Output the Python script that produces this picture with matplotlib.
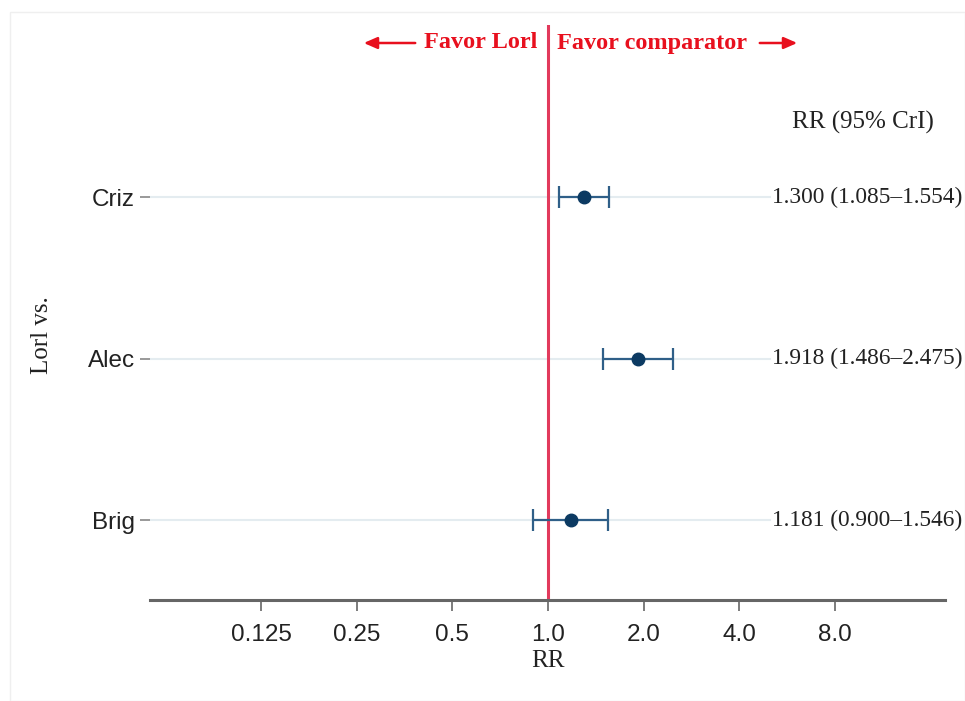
import matplotlib
matplotlib.use("Agg")
import matplotlib.pyplot as plt
import numpy as np
from matplotlib.transforms import blended_transform_factory
from matplotlib.patches import Rectangle

# Data
comparators = ["Criz", "Alec", "Brig"]
rr = [1.300, 1.918, 1.181]
lower = [1.085, 1.486, 0.900]
upper = [1.554, 2.475, 1.546]
tick_values = [0.125, 0.25, 0.5, 1.0, 2.0, 4.0, 8.0]
tick_labels = ["0.125", "0.25", "0.5", "1.0", "2.0", "4.0", "8.0"]

serif = "Liberation Serif"
sans = "Liberation Sans"

fig = plt.figure(figsize=(9.65, 7.01), dpi=100)
fig.patch.set_facecolor("white")
fig.patches.append(Rectangle((10 / 965, 0), 1 - 10 / 965, 1 - 12 / 701,
                             transform=fig.transFigure, fill=False,
                             edgecolor="#efefef", lw=1))

ax = fig.add_axes([150 / 965, 1 - 600 / 701, 795 / 965, 575 / 701])
ax.set_xscale("log", base=2)
ax.set_xlim(2 ** -4.16, 2 ** 4.15)
ax.set_ylim(0.505, 4.065)

ypos = np.arange(len(comparators), 0, -1)

# grid lines per row
for y in ypos:
    ax.axhline(y, xmin=0, xmax=0.78, color="#e4ecf0", lw=1.5, zorder=0)

# reference line
ax.axvline(1.0, color="#e23a5c", lw=2.2, zorder=1)

rr_a = np.array(rr)
err = [rr_a - np.array(lower), np.array(upper) - rr_a]
ax.errorbar(rr_a, ypos, xerr=err, fmt="o", color="#0c3a62", ecolor="#2f5f88",
            elinewidth=1.6, capsize=8, capthick=1.6, markersize=9, zorder=3)

# ticks
ax.set_xticks(tick_values)
ax.set_xticklabels(tick_labels, fontfamily=sans, fontsize=17.5, color="#222222")
ax.xaxis.set_minor_locator(matplotlib.ticker.NullLocator())
ax.set_yticks(ypos)
ax.set_yticklabels(comparators, fontfamily=sans, fontsize=17.5, color="#222222")
ax.tick_params(axis="x", length=8, width=1.2, color="#666666", pad=9)
ax.tick_params(axis="y", length=7, width=1.2, color="#888888", pad=4)

for s in ["top", "right", "left"]:
    ax.spines[s].set_visible(False)
ax.spines["bottom"].set_color("#666666")
ax.spines["bottom"].set_linewidth(2.2)

ax.set_xlabel("RR", fontfamily=serif, fontsize=18, color="#222222", labelpad=3)
ax.set_ylabel("Lorl vs.", fontfamily=serif, fontsize=18, color="#222222")
ax.yaxis.set_label_coords(-0.122, 0.46)

# right-hand annotations
trans = blended_transform_factory(ax.transAxes, ax.transData)
ax.text(0.897, 3.464, "RR (95% CrI)", transform=trans, ha="center", va="center",
        fontfamily=serif, fontsize=18, color="#222222")
for y, r, lo, hi in zip(ypos, rr, lower, upper):
    ax.text(0.782, y, f"{r:.3f} ({lo:.3f}\u2013{hi:.3f})", transform=trans,
            ha="left", va="center", fontfamily=serif, fontsize=16.8,
            color="#222222", clip_on=False)

# favour labels
red = "#e8101e"
fy = 1 - 43 / 701
fig.text(537 / 965, fy, "Favor Lorl", ha="right", va="center", fontfamily=serif,
         fontsize=17.5, fontweight="bold", color=red)
fig.text(557 / 965, fy, "Favor comparator", ha="left", va="center", fontfamily=serif,
         fontsize=17.5, fontweight="bold", color=red)
fig.add_artist(matplotlib.patches.FancyArrowPatch(
    (418 / 965, fy), (361 / 965, fy), transform=fig.transFigure,
    arrowstyle="-|>,head_length=8,head_width=3.5", color=red, lw=1.8))
fig.add_artist(matplotlib.patches.FancyArrowPatch(
    (757 / 965, fy), (800 / 965, fy), transform=fig.transFigure,
    arrowstyle="-|>,head_length=8,head_width=3.5", color=red, lw=1.8))

fig.savefig("out.png", dpi=100, facecolor=fig.get_facecolor())
